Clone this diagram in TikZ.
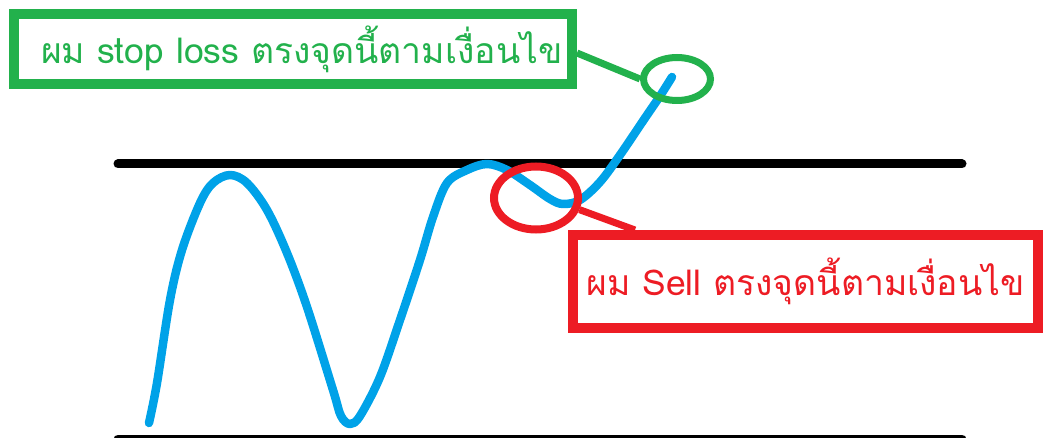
\documentclass[tikz,border=0pt]{standalone}
\usepackage{fontspec}
\newfontfamily\thaifont[Script=Thai]{Loma}
\usetikzlibrary{shapes.geometric}
\definecolor{pgreen}{RGB}{34,177,76}
\definecolor{pred}{RGB}{237,28,36}
\definecolor{pblue}{RGB}{0,162,232}
\tikzset{
  notebox/.style={draw, rectangle, line width=10pt, inner sep=0pt, font=\thaifont\fontsize{35.5}{40}\selectfont},
  ring/.style={draw, ellipse, inner sep=0pt},
  level/.style={line width=9pt, line cap=round, black},
  price/.style={line width=8.5pt, line cap=round, line join=round, pblue},
}
\begin{document}
\begin{tikzpicture}[x=1pt,y=-1pt]
\useasboundingbox (0,0) rectangle (1043,438);
% support / resistance levels
\coordinate (t1) at (118,164);
\coordinate (t2) at (962,164);
\coordinate (b1) at (118,439);
\coordinate (b2) at (962,439);
\draw[level] (t1) -- (t2);
\draw[level] (b1) -- (b2);
% price path
\draw[price] plot[smooth, tension=0.55] coordinates {
 (149,423) (157,383) (170,300) (182,250) (200,203) (213,183) (230,175)
 (247,183) (267,210) (287,253) (307,307) (333,390) (341,416) (350,424)
 (360,416) (380,377) (400,320) (420,260) (433,217) (447,183) (467,170)
 (487,164) (507,170) (530,185) (550,199) (563,204) (580,200) (600,182)
 (620,155) (645,118) (660,96) (672,77)};
% circles
\node[ring, pgreen, line width=7pt, minimum width=67pt, minimum height=43pt] (gell) at (677,79) {};
\node[ring, pred, line width=8pt, minimum width=84pt, minimum height=63pt] (rell) at (536,198) {};
% boxes
\node[notebox, pgreen, minimum width=558.5pt, minimum height=70pt] (gbox) at (292.75,49) {\hspace*{18pt}ผม stop loss ตรงจุดนี้ตามเงื่อนไข};
\node[notebox, pred, minimum width=465pt, minimum height=93pt] (rbox) at (805.5,281.5) {ผม Sell ตรงจุดนี้ตามเงื่อนไข};
% connectors
\draw[pgreen, line width=7pt] ([yshift=-4pt]gbox.east) -- (gell.west);
\draw[pred, line width=7pt] (rell.-15) -- ([xshift=67pt]rbox.north west);
\end{tikzpicture}
\end{document}
